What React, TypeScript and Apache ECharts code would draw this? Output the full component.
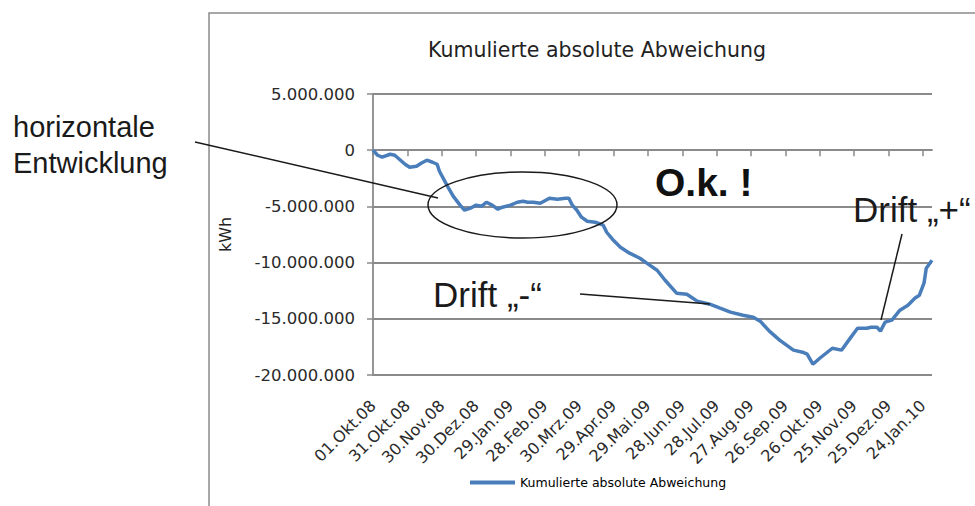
import React, { useEffect, useRef } from "react";
import * as echarts from "echarts";

// x positions are days since 01.Okt.08
const days = [0,4,8,15,19,24,28,32,38,42,47,52,56,58,65,70,76,80,85,90,95,99,104,109,113,120,126,131,135,140,146,154,161,168,171,174,178,182,187,194,201,204,209,216,224,233,239,248,255,265,274,283,294,303,312,323,332,338,346,355,367,375,379,384,390,401,409,416,423,431,435,440,443,447,453,460,467,473,477,481,483,488];
const values = [0,-450000,-620000,-360000,-450000,-890000,-1250000,-1510000,-1420000,-1160000,-890000,-1070000,-1250000,-1870000,-3200000,-4090000,-4890000,-5340000,-5160000,-4890000,-4980000,-4630000,-4890000,-5250000,-5070000,-4890000,-4630000,-4540000,-4630000,-4630000,-4720000,-4270000,-4360000,-4270000,-4270000,-4890000,-5340000,-5960000,-6320000,-6410000,-6670000,-7300000,-7920000,-8630000,-9160000,-9610000,-10050000,-10680000,-11570000,-12720000,-12810000,-13430000,-13700000,-14060000,-14410000,-14680000,-14860000,-15210000,-16100000,-16900000,-17790000,-17970000,-18150000,-19040000,-18510000,-17620000,-17790000,-16810000,-15840000,-15840000,-15750000,-15750000,-16100000,-15300000,-15120000,-14230000,-13790000,-13170000,-12900000,-11830000,-10500000,-9790000];
const dateLabels = ["01.Okt.08","31.Okt.08","30.Nov.08","30.Dez.08","29.Jan.09","28.Feb.09","30.Mrz.09","29.Apr.09","29.Mai.09","28.Jun.09","28.Jul.09","27.Aug.09","26.Sep.09","26.Okt.09","25.Nov.09","25.Dez.09","24.Jan.10"];
const labelStep = 30;
const lastDay = 488;
const yMin = -20000000;
const yMax = 5000000;
const yStep = 5000000;
const seriesName = "Kumulierte absolute Abweichung";
const titleText = "Kumulierte absolute Abweichung";
const yName = "kWh";

const GRAY = "#8a8a8a";
const CHART_FONT = "DejaVu Sans";
const NOTE_FONT = "Liberation Sans";

function fmtDE(v: number): string {
  const s = Math.abs(v).toString().replace(/\B(?=(\d{3})+(?!\d))/g, ".");
  return (v < 0 ? "-" : "") + s;
}

export default function App() {
  const ref = useRef<HTMLDivElement>(null);
  useEffect(() => {
    if (!ref.current) return;
    const chart = echarts.init(ref.current, null, { renderer: "svg" });
    const tickVals = dateLabels.map((_, i) => i * labelStep);
    chart.setOption({
      animation: false,
      backgroundColor: "#ffffff",
      title: {
        text: titleText,
        left: 597,
        top: 39,
        padding: 0,
        textAlign: "center",
        textStyle: { fontFamily: CHART_FONT, fontSize: 20.5, fontWeight: "normal", color: "#222" },
      },
      legend: {
        left: 470,
        top: 476,
        padding: 0,
        icon: "rect",
        itemWidth: 45,
        itemHeight: 4,
        textStyle: { fontFamily: CHART_FONT, fontSize: 12.5, color: "#000" },
        data: [seriesName],
      },
      grid: { left: 373, top: 94, width: 559, height: 281, containLabel: false },
      xAxis: [
        {
          type: "value",
          min: 0,
          max: lastDay,
          position: "bottom",
          axisLine: { show: false, onZero: false },
          axisTick: { show: false },
          splitLine: { show: false },
          axisLabel: {
            customValues: tickVals,
            formatter: (v: number) => dateLabels[Math.round(v / labelStep)] ?? "",
            rotate: 45,
            margin: 28,
            fontFamily: CHART_FONT,
            fontSize: 16,
            color: "#2a2a2a",
          },
        },
        {
          type: "value",
          min: 0,
          max: lastDay,
          position: "bottom",
          axisLine: { show: true, onZero: true, lineStyle: { color: GRAY, width: 1.8 } },
          axisTick: { show: true, customValues: tickVals, length: 6, lineStyle: { color: GRAY, width: 1.5 } },
          axisLabel: { show: false },
          splitLine: { show: false },
        },
      ],
      yAxis: {
        type: "value",
        min: yMin,
        max: yMax,
        interval: yStep,
        name: yName,
        nameLocation: "middle",
        nameGap: 140,
        nameTextStyle: { fontFamily: CHART_FONT, fontSize: 16, color: "#222" },
        axisLine: { show: true, onZero: false, lineStyle: { color: GRAY, width: 1.8 } },
        axisTick: { show: true, length: 6, lineStyle: { color: GRAY, width: 1.5 } },
        splitLine: { show: true, lineStyle: { color: GRAY, width: 1.8 } },
        axisLabel: {
          formatter: (v: number) => fmtDE(v),
          margin: 18,
          fontFamily: CHART_FONT,
          fontSize: 16.5,
          color: "#2a2a2a",
        },
      },
      series: [
        {
          name: seriesName,
          type: "line",
          xAxisIndex: 0,
          data: days.map((d, i) => [d, values[i]]),
          symbol: "none",
          lineStyle: { color: "#4a7ebb", width: 3.5 },
          itemStyle: { color: "#4a7ebb" },
        },
      ],
      graphic: [
        {
          type: "rect",
          z: 0,
          shape: { x: 209, y: 13, width: 900, height: 700 },
          style: { fill: "none", stroke: GRAY, lineWidth: 1.5 },
        },
        {
          type: "ellipse",
          z: 100,
          shape: { cx: 522.5, cy: 205, rx: 94.5, ry: 33 },
          style: { fill: "none", stroke: "#1a1a1a", lineWidth: 1.5 },
        },
        {
          type: "line",
          z: 100,
          shape: { x1: 195, y1: 142, x2: 438, y2: 198 },
          style: { stroke: "#1a1a1a", lineWidth: 1.5 },
        },
        {
          type: "line",
          z: 100,
          shape: { x1: 580, y1: 294, x2: 710, y2: 304 },
          style: { stroke: "#1a1a1a", lineWidth: 1.5 },
        },
        {
          type: "line",
          z: 100,
          shape: { x1: 902, y1: 234, x2: 881, y2: 320 },
          style: { stroke: "#1a1a1a", lineWidth: 1.5 },
        },
        {
          type: "text",
          z: 100,
          x: 13,
          y: 127,
          style: { text: "horizontale", font: `29px "${NOTE_FONT}"`, fill: "#1a1a1a", textAlign: "left", textVerticalAlign: "middle" },
        },
        {
          type: "text",
          z: 100,
          x: 13,
          y: 163,
          style: { text: "Entwicklung", font: `29px "${NOTE_FONT}"`, fill: "#1a1a1a", textAlign: "left", textVerticalAlign: "middle" },
        },
        {
          type: "text",
          z: 100,
          x: 655,
          y: 182,
          style: { text: "O.k. !", font: `bold 39px "${NOTE_FONT}"`, fill: "#111", textAlign: "left", textVerticalAlign: "middle" },
        },
        {
          type: "text",
          z: 100,
          x: 433,
          y: 294,
          style: { text: "Drift „-“", font: `35px "${NOTE_FONT}"`, fill: "#1a1a1a", textAlign: "left", textVerticalAlign: "middle" },
        },
        {
          type: "text",
          z: 100,
          x: 853,
          y: 209,
          style: { text: "Drift „+“", font: `35px "${NOTE_FONT}"`, fill: "#1a1a1a", textAlign: "left", textVerticalAlign: "middle" },
        },
      ],
    });
    return () => chart.dispose();
  }, []);
  return (
    <div
      ref={ref}
      style={{ position: "fixed", left: 0, top: 0, width: 975, height: 506, background: "#fff" }}
    />
  );
}
